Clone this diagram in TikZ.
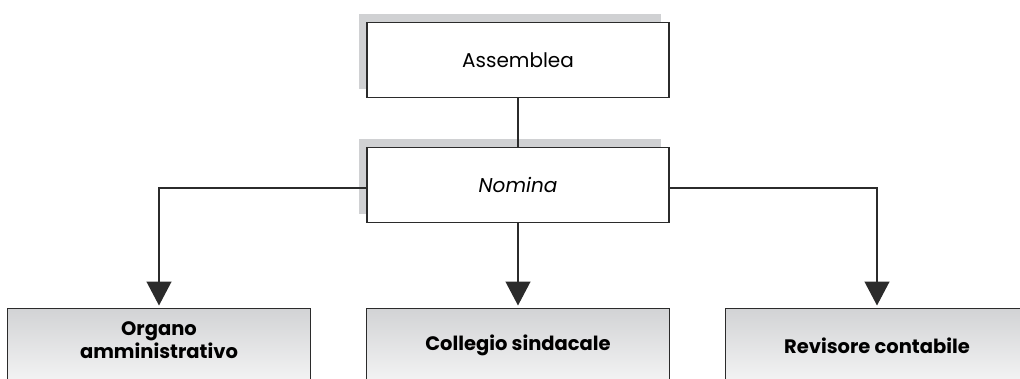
\documentclass[tikz,border=0pt]{standalone}
\usepackage{fontspec}
\setmainfont{Poppins}
\usetikzlibrary{arrows.meta,shadows}
\definecolor{linec}{HTML}{2B2B2B}
\definecolor{shadowc}{HTML}{D0D1D3}
\definecolor{topgray}{HTML}{D2D3D5}
\tikzset{
  topbox/.style={draw=linec, line width=1.4pt, fill=white, minimum width=302pt, minimum height=75pt, inner sep=0pt,
    drop shadow={shadow xshift=-8.5pt, shadow yshift=8.5pt, fill=shadowc, opacity=1},
    font=\fontsize{20}{24}\selectfont},
  botbox/.style={draw=linec, line width=1.4pt, minimum width=303pt, minimum height=100pt, inner sep=0pt,
    top color=topgray, bottom color=white, anchor=north},
  bottext/.style={font=\bfseries\fontsize{19.5}{23}\selectfont, align=center},
  conn/.style={draw=linec, line width=1.3pt},
  arr/.style={conn, -{Triangle[width=25pt,length=24pt]}, shorten >=2pt}
}
\begin{document}
\begin{tikzpicture}[x=1pt,y=-1pt]
\useasboundingbox (0,0) rectangle (1020,378);
\clip (0,0) rectangle (1020,378);
\node[topbox] (assemblea) at (518,60) {Assemblea};
\node[topbox] (nomina) at (518,185) {\itshape Nomina};
\node[botbox] (organo) at (159,307.5) {};
\node[botbox] (collegio) at (518,307.5) {};
\node[botbox] (revisore) at (877,307.5) {};
\node[bottext] (torg) at (159,340) {Organo\\amministrativo};
\node[bottext] (tcol) at (518,345.5) {Collegio sindacale};
\node[bottext] (trev) at (877,345.5) {Revisore contabile};
\draw[conn] (assemblea.south) -- (nomina.north);
\draw[arr] ([yshift=-3pt]nomina.west) -| (organo.north);
\draw[arr] (nomina.south) -- (collegio.north);
\draw[arr] ([yshift=-3pt]nomina.east) -| (revisore.north);
\end{tikzpicture}
\end{document}
